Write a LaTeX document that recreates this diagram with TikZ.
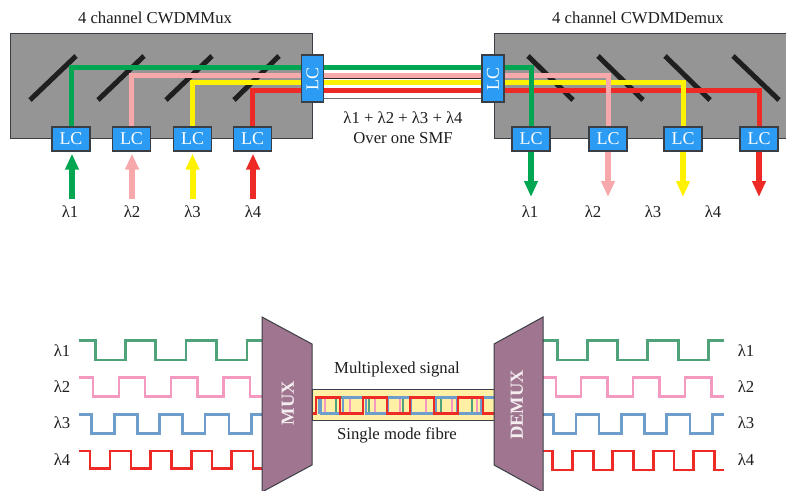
\documentclass[tikz,border=0pt]{standalone}
\usepackage{fontspec}
\setmainfont{Liberation Serif}
\usetikzlibrary{arrows.meta}
\definecolor{fgreen}{HTML}{00A651}
\definecolor{fpink}{HTML}{F7A8AB}
\definecolor{fyellow}{HTML}{FFF200}
\definecolor{fred}{HTML}{EE2A27}
\definecolor{boxgray}{HTML}{959595}
\definecolor{lcblue}{HTML}{2B9BF4}
\definecolor{edge}{HTML}{3A3F45}
\definecolor{muxfill}{HTML}{A0758F}
\definecolor{wgreen}{HTML}{4FA27A}
\definecolor{wpink}{HTML}{F49AC1}
\definecolor{wblue}{HTML}{6E9DCB}
\definecolor{fibrefill}{HTML}{FFF0A5}
\definecolor{ink}{HTML}{1E1E1E}
\tikzset{
  lbl/.style={font=\fontsize{16.7}{18}\selectfont,text=ink,inner sep=0pt},
  lc/.style={draw=edge,line width=1.3pt,fill=lcblue,text=white,minimum width=38pt,minimum height=24pt,inner sep=0pt,font=\fontsize{18}{20}\selectfont},
  lcv/.style={lc,rotate=90,minimum width=47pt,minimum height=22pt},
  fibre/.style={line width=5pt,line cap=butt,line join=miter},
  infeed/.style={line width=6pt,-{Triangle[length=16pt,width=13pt]},shorten >=2pt},
  outfeed/.style={line width=6pt,-{Triangle[length=16pt,width=13pt]}},
  mirror/.style={line width=5pt,draw=black!88},
  module/.style={draw=edge,line width=1pt,fill=boxgray},
  wave/.style={line width=2.7pt,line join=miter},
  muxbody/.style={draw=edge,line width=1pt,fill=muxfill},
  muxtext/.style={rotate=90,text=white!88!muxfill,inner sep=0pt,font=\fontsize{18.5}{20}\selectfont\bfseries},
  cable/.style={line width=1pt}
}
\begin{document}
\begin{tikzpicture}[x=1pt,y=-1pt]
\useasboundingbox (0,0) rectangle (786,490);
\fill[white] (0,0) rectangle (786,490);
% titles
\node[lbl] (tmux) at (155,18) {4 channel CWDMMux};
\node[lbl] (tdem) at (638,18) {4 channel CWDMDemux};
% modules
\draw[module] (10,33) rectangle (312,138);
\draw[module] (494,33) rectangle (786,138);
% mirrors
\draw[mirror] (30,100)--(76,56);
\draw[mirror] (98,100)--(144,56);
\draw[mirror] (166,100)--(212,56);
\draw[mirror] (234,100)--(279,56);
\draw[mirror] (528,56)--(573,100);
\draw[mirror] (598,56)--(643,100);
\draw[mirror] (665,56)--(710,100);
\draw[mirror] (733,56)--(779,100);
% cable
\fill[white] (324,65) rectangle (482,99);
\draw[cable,draw=black!55] (324,65)--(482,65);
\draw[cable,draw=black!85] (312,78.7)--(494,78.7);
\draw[cable,draw=black!55] (324,98.7)--(482,98.7);
% positions of the LC connectors
\coordinate (a1) at (71,139);
\coordinate (a2) at (131.5,139);
\coordinate (a3) at (192.5,139);
\coordinate (a4) at (252.5,139);
\coordinate (b1) at (531,139);
\coordinate (b2) at (608,139);
\coordinate (b3) at (683,139);
\coordinate (b4) at (759,139);
\coordinate (pg) at (302,67.3);
\coordinate (pp) at (302,75.7);
\coordinate (py) at (302,82.7);
\coordinate (pr) at (302,90.3);
% fibres
\draw[fibre,fred] (a4) |- (pr) -- (759,90.3) -- (b4);
\draw[fibre,fyellow] (a3) |- (py) -- (683,82.7) -- (b3);
\draw[fibre,fpink] (a2) |- (pp) -- (608,75.7) -- (b2);
\draw[fibre,fgreen] (a1) |- (pg) -- (531,67.3) -- (b1);
% arrows
\coordinate (i1) at (72,199);
\coordinate (i2) at (132,199);
\coordinate (i3) at (192.5,199);
\coordinate (i4) at (253,199);
\coordinate (o1) at (531,197);
\coordinate (o2) at (608,197);
\coordinate (o3) at (683,197);
\coordinate (o4) at (759,197);
% LC nodes
\node[lc] (lc1) at (71,139) {LC};
\node[lc] (lc2) at (131.5,139) {LC};
\node[lc] (lc3) at (192.5,139) {LC};
\node[lc] (lc4) at (252.5,139) {LC};
\node[lc] (ld1) at (531,139) {LC};
\node[lc] (ld2) at (608,139) {LC};
\node[lc] (ld3) at (683,139) {LC};
\node[lc] (ld4) at (759,139) {LC};
\node[lcv] (lcm) at (312.5,78.5) {LC};
\node[lcv] (lcd) at (493,78.5) {LC};
\draw[infeed,fgreen] (i1) -- (i1 |- lc1.south);
\draw[infeed,fpink] (i2) -- (i2 |- lc2.south);
\draw[infeed,fyellow] (i3) -- (i3 |- lc3.south);
\draw[infeed,fred] (i4) -- (i4 |- lc4.south);
\draw[outfeed,fgreen] (ld1.south) -- (o1);
\draw[outfeed,fpink] (ld2.south) -- (o2);
\draw[outfeed,fyellow] (ld3.south) -- (o3);
\draw[outfeed,fred] (ld4.south) -- (o4);
% labels upper
\node[lbl] (u1) at (70,212) {λ1};
\node[lbl] (u2) at (132,212) {λ2};
\node[lbl] (u3) at (192.5,212) {λ3};
\node[lbl] (u4) at (253,212) {λ4};
\node[lbl] (v1) at (530,212) {λ1};
\node[lbl] (v2) at (593,212) {λ2};
\node[lbl] (v3) at (653,212) {λ3};
\node[lbl] (v4) at (713,212) {λ4};
\node[lbl] (sum) at (403,118) {λ1 + λ2 + λ3 + λ4};
\node[lbl] (smf) at (403,138) {Over one SMF};
% lower: left waves
\def\gh{340.7}\def\gl{360}\def\ph{377.3}\def\pl{396.7}\def\bh{414.3}\def\bl{433.7}\def\rh{451}\def\rl{468.5}
\draw[wave,wgreen] (78.5,\gh) -| (95.7,\gl) -| (125.3,\gh) -| (155.7,\gl) -| (186,\gh) -| (216.7,\gl) -| (247,\gh) -- (262,\gh);
\draw[wave,wpink] (78.5,\ph) -| (93,\pl) -| (119,\ph) -| (145,\pl) -| (171,\ph) -| (197.3,\pl) -| (223.3,\ph) -| (250,\pl) -- (262,\pl);
\draw[wave,wblue] (78.5,\bh) -| (91.3,\bl) -| (114.3,\bh) -| (137.3,\bl) -| (159.7,\bh) -| (182.3,\bl) -| (205,\bh) -| (229,\bl) -| (251.7,\bh) -- (262,\bh);
\draw[wave,fred] (78.5,\rh) -| (90,\rl) -| (110,\rh) -| (131,\rl) -| (150.7,\rh) -| (171.3,\rl) -| (191.3,\rh) -| (212,\rl) -| (231.7,\rh) -| (253,\rl) -- (262,\rl);
% lower: right waves
\def\rl{470}
\draw[wave,wgreen] (543,\gh) -| (557.7,\gl) -| (587.7,\gh) -| (617.7,\gl) -| (647.7,\gh) -| (678.3,\gl) -| (708.7,\gh) -- (724,\gh);
\draw[wave,wpink] (543,\ph) -| (556,\pl) -| (581,\ph) -| (607.3,\pl) -| (633,\ph) -| (659.3,\pl) -| (685,\ph) -| (711.3,\pl) -- (724,\pl);
\draw[wave,wblue] (543,\bh) -| (553.3,\bl) -| (576,\bh) -| (599,\bl) -| (621.7,\bh) -| (644.3,\bl) -| (666.7,\bh) -| (690,\bl) -| (712.7,\bh) -- (724,\bh);
\draw[wave,fred] (543,\rh) -| (552.7,\rl) -| (572.7,\rh) -| (593.3,\rl) -| (612.7,\rh) -| (633.3,\rl) -| (653.3,\rh) -| (674,\rl) -| (693.3,\rh) -| (714.3,\rl) -- (724,\rl);
% fibre tube
\draw[draw=edge,line width=1pt,fill=fibrefill] (312,389.5) rectangle (494,420);
\def\hi{397.5}\def\lo{413.5}
\draw[wave,wgreen] (320,\lo) -| (336,\hi) -| (369,\lo) -| (403,\hi) -| (441,\lo) -| (472,\hi) -- (482,\hi);
\draw[wave,wpink] (320,\hi) -| (325,\lo) -| (350,\hi) -| (375,\lo) -| (400,\hi) -| (426,\lo) -| (452,\hi) -| (477,\lo) -- (486,\lo);
\draw[wave,wblue] (319,\lo) -- (319,\hi) -| (321,\lo) -| (343,\hi) -| (366,\lo) -| (388,\hi) -| (411,\lo) -| (436,\hi) -| (457,\lo) -| (481,\hi) -- (494,\hi);
\draw[wave,fred] (312,\lo) -| (316,\hi) -| (340,\lo) -| (363,\hi) -| (387,\lo) -| (410,\hi) -| (434,\lo) -| (458,\hi) -| (483,\lo) -- (494,\lo);
% MUX / DEMUX
\draw[muxbody] (262,317) -- (312,344) -- (312,465) -- (262,492) -- cycle;
\draw[muxbody] (543,317) -- (494,344) -- (494,465) -- (543,492) -- cycle;
\node[muxtext] (mux) at (288,403) {MUX};
\node[muxtext] (dem) at (517,405) {DEMUX};
\node[lbl] (ms) at (397,370) {Multiplexed signal};
\node[lbl] (sm) at (397,435) {Single mode fibre};
% lambda labels
\node[lbl] (l1) at (62,351) {λ1};
\node[lbl] (l2) at (62,387) {λ2};
\node[lbl] (l3) at (62,423) {λ3};
\node[lbl] (l4) at (62,460) {λ4};
\node[lbl] (r1) at (746,351) {λ1};
\node[lbl] (r2) at (746,387) {λ2};
\node[lbl] (r3) at (746,423) {λ3};
\node[lbl] (r4) at (746,460) {λ4};
\end{tikzpicture}
\end{document}
